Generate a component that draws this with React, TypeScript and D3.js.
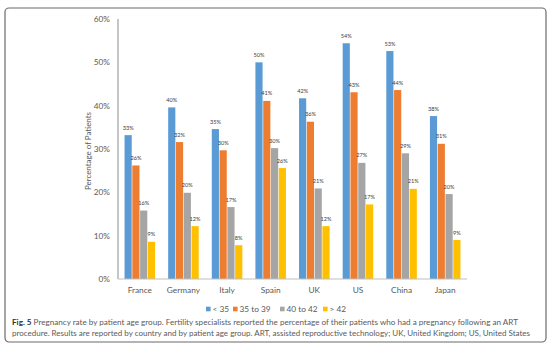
import React from "react";
import * as d3 from "d3";

const countries = ["France", "Germany", "Italy", "Spain", "UK", "US", "China", "Japan"];
const seriesNames = ["< 35", "35 to 39", "40 to 42", "> 42"];
const under35 = [33.2, 39.6, 34.6, 50.0, 41.7, 54.4, 52.6, 37.6];
const from35to39 = [26.2, 31.6, 29.7, 41.1, 36.3, 43.1, 43.6, 31.2];
const from40to42 = [15.8, 19.9, 16.6, 30.2, 20.9, 26.8, 29.0, 19.6];
const over42 = [8.6, 12.2, 7.8, 25.6, 12.2, 17.2, 20.8, 9.0];
const seriesValues = [under35, from35to39, from40to42, over42];
const colors = ["#5B9BD5", "#ED7D31", "#A5A5A5", "#FFC000"];
const yTicks = [0, 10, 20, 30, 40, 50, 60];
const captionBold = "Fig. 5";
const captionLine1 =
  " Pregnancy rate by patient age group. Fertility specialists reported the percentage of their patients who had a pregnancy following an ART";
const captionLine2 =
  "procedure. Results are reported by country and by patient age group. ART, assisted reproductive technology; UK, United Kingdom; US, United States";

const W = 558;
const H = 358;
const plot = { left: 118, right: 467, top: 19, bottom: 279 };
const font = "'Lato', 'Open Sans', sans-serif";
const legendOffsets = [206, 233, 280, 323];

export default function App() {
  const x0 = d3
    .scaleBand<string>()
    .domain(countries)
    .range([plot.left, plot.right])
    .paddingInner(0.3)
    .paddingOuter(0.15);
  const x1 = d3
    .scaleBand<number>()
    .domain(d3.range(seriesNames.length))
    .range([0, x0.bandwidth()])
    .paddingInner(0.08);
  const y = d3.scaleLinear().domain([0, 60]).range([plot.bottom, plot.top]);
  const fmt = (v: number) => `${Math.round(v)}%`;

  return (
    <svg
      width={W}
      height={H}
      style={{ position: "absolute", left: 0, top: 0, background: "#fff" }}
      fontFamily={font}
    >
      <rect x={0} y={0} width={W} height={H} fill="#fff" />
      <rect
        x={5}
        y={8}
        width={541}
        height={334}
        rx={4}
        fill="#fff"
        stroke="#6b6b6b"
        strokeWidth={1.2}
      />
      {/* y tick labels */}
      {yTicks.map((t) => (
        <text
          key={t}
          x={plot.left - 8}
          y={y(t)}
          dy="0.35em"
          textAnchor="end"
          fontSize={8.3}
          fill="#595959"
        >
          {t}%
        </text>
      ))}
      {/* y title */}
      <text
        transform={`translate(88.5,${(plot.top + plot.bottom) / 2 + 2}) rotate(-90)`}
        textAnchor="middle"
        dy="0.35em"
        fontSize={8.3}
        fill="#595959"
        textLength={78}
        lengthAdjust="spacingAndGlyphs"
      >
        Percentage of Patients
      </text>
      {/* bars */}
      {countries.map((c, ci) => (
        <g key={c} transform={`translate(${x0(c)},0)`}>
          {seriesValues.map((vals, si) => (
            <rect
              key={si}
              x={x1(si)}
              y={y(vals[ci])}
              width={x1.bandwidth()}
              height={y(0) - y(vals[ci])}
              fill={colors[si]}
            />
          ))}
          {seriesValues.map((vals, si) => (
            <text
              key={"l" + si}
              x={(x1(si) as number) + x1.bandwidth() / 2}
              y={y(vals[ci]) - 5.5}
              textAnchor="middle"
              fontSize={5.6}
              fill="#404040"
            >
              {fmt(vals[ci])}
            </text>
          ))}
        </g>
      ))}
      {/* axes lines */}
      <line x1={plot.left} x2={plot.left} y1={plot.top} y2={plot.bottom} stroke="#8c8c8c" strokeWidth={1} />
      <line x1={plot.left} x2={plot.right} y1={plot.bottom} y2={plot.bottom} stroke="#bfbfbf" strokeWidth={1} />
      {/* x labels */}
      {countries.map((c) => (
        <text
          key={c}
          x={(x0(c) as number) + x0.bandwidth() / 2}
          y={290}
          dy="0.35em"
          textAnchor="middle"
          fontSize={8.3}
          fill="#595959"
        >
          {c}
        </text>
      ))}
      {/* legend */}
      {seriesNames.map((s, i) => (
        <g key={s} transform={`translate(${legendOffsets[i]},309)`}>
          <rect x={0} y={-2.3} width={4.6} height={4.6} fill={colors[i]} />
          <text x={6.5} dy="0.35em" fontSize={8.3} fill="#595959">
            {s}
          </text>
        </g>
      ))}
      {/* caption */}
      <text x={12} y={325} fontSize={7.8} fill="#5a5a5a" textLength={506} lengthAdjust="spacingAndGlyphs">
        <tspan fontWeight="bold" fill="#333">{captionBold}</tspan>
        <tspan>{captionLine1}</tspan>
      </text>
      <text x={12} y={336} fontSize={7.8} fill="#5a5a5a" textLength={518} lengthAdjust="spacingAndGlyphs">
        {captionLine2}
      </text>
    </svg>
  );
}
